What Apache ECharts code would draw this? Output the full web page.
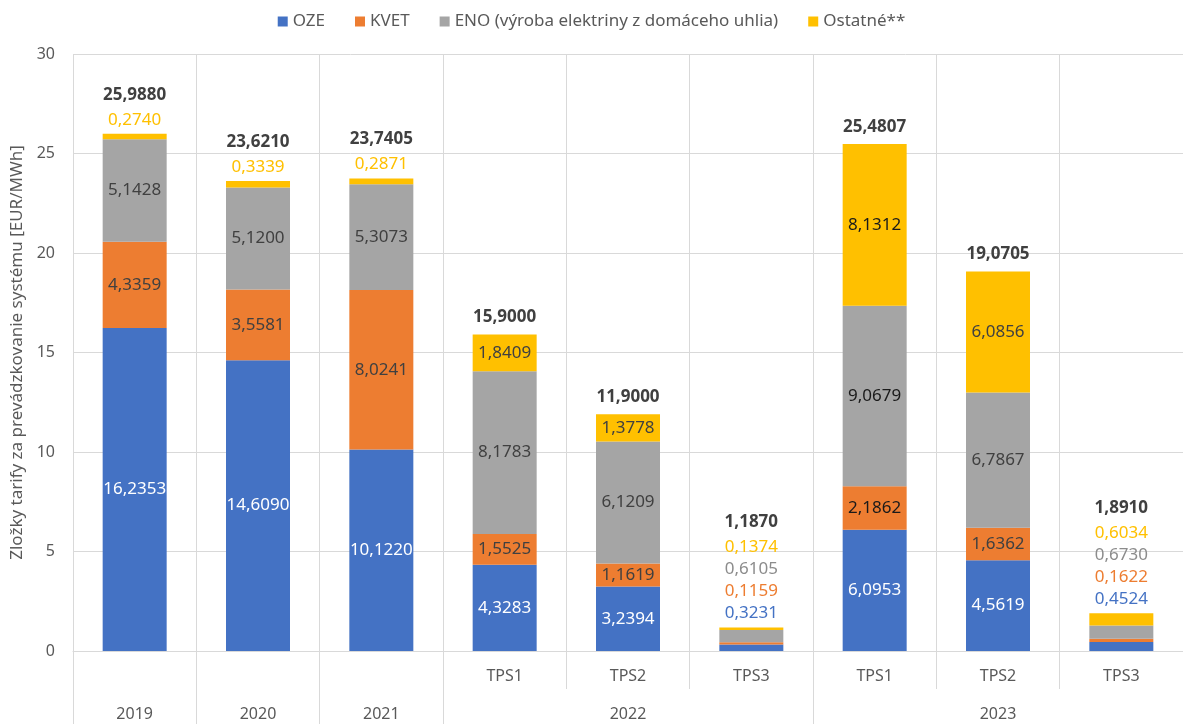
<!DOCTYPE html>
<html>
<head>
<meta charset="utf-8">
<script src="https://cdn.jsdelivr.net/npm/echarts@6/dist/echarts.min.js"></script>
<style>
  html, body { margin: 0; padding: 0; background: #fff; }
  #chart { width: 1183px; height: 724px; }
</style>
</head>
<body>
<div id="chart"></div>
<script>
var categories = ['2019', '2020', '2021', '2022 TPS1', '2022 TPS2', '2022 TPS3', '2023 TPS1', '2023 TPS2', '2023 TPS3'];
var periodLabels = ['', '', '', 'TPS1', 'TPS2', 'TPS3', 'TPS1', 'TPS2', 'TPS3'];
var yearLabels = ['2019', '2020', '2021', '', '2022', '', '', '2023', ''];
var yearStarts = [0, 1, 2, 3, 6];

var oze = [16.2353, 14.6090, 10.1220, 4.3283, 3.2394, 0.3231, 6.0953, 4.5619, 0.4524];
var kvet = [4.3359, 3.5581, 8.0241, 1.5525, 1.1619, 0.1159, 2.1862, 1.6362, 0.1622];
var eno = [5.1428, 5.1200, 5.3073, 8.1783, 6.1209, 0.6105, 9.0679, 6.7867, 0.6730];
var ostatne = [0.2740, 0.3339, 0.2871, 1.8409, 1.3778, 0.1374, 8.1312, 6.0856, 0.6034];
var totals = [25.9880, 23.6210, 23.7405, 15.9000, 11.9000, 1.1870, 25.4807, 19.0705, 1.8910];

var FONT = 'Noto Sans';
var GRID_COLOR = '#d9d9d9';
var TEXT_COLOR = '#595959';

function fmt(v) {
  return v.toFixed(4).replace('.', ',');
}

// segments below 1 get their value written above the bar
var OUTSIDE_LIMIT = 1;

function segmentData(values, insideColor) {
  return values.map(function (v, i) {
    var color = insideColor;
    if (insideColor !== '#ffffff' && i === 6) color = '#1a1a1a';
    return {
      value: v,
      label: {
        show: v >= OUTSIDE_LIMIT,
        color: color
      }
    };
  });
}

function totalLabel(i) {
  var parts = ['{t|' + fmt(totals[i]) + '}'];
  if (ostatne[i] < OUTSIDE_LIMIT) parts.push('{y|' + fmt(ostatne[i]) + '}');
  if (eno[i] < OUTSIDE_LIMIT) parts.push('{g|' + fmt(eno[i]) + '}');
  if (kvet[i] < OUTSIDE_LIMIT) parts.push('{o|' + fmt(kvet[i]) + '}');
  if (oze[i] < OUTSIDE_LIMIT) parts.push('{b|' + fmt(oze[i]) + '}');
  return parts.join('\n');
}

var chart = echarts.init(document.getElementById('chart'));

var barLabel = {
  show: true,
  position: 'inside',
  fontFamily: FONT,
  fontSize: 17,
  formatter: function (p) { return fmt(p.value); }
};

function barSeries(name, color, values, labelColor) {
  return {
    name: name,
    type: 'bar',
    stack: 'total',
    barWidth: 64,
    itemStyle: { color: color },
    label: barLabel,
    data: segmentData(values, labelColor)
  };
}

var option = {
  animation: false,
  textStyle: { fontFamily: FONT },
  legend: {
    data: ['OZE', 'KVET', 'ENO (výroba elektriny z domáceho uhlia)', 'Ostatné**'],
    top: 8,
    left: 'center',
    icon: 'rect',
    itemWidth: 10,
    itemHeight: 10,
    itemGap: 30,
    textStyle: { fontSize: 17, color: TEXT_COLOR, fontFamily: FONT }
  },
  grid: { left: 73, right: 0, top: 54, bottom: 73, containLabel: false },
  xAxis: [{
    type: 'category',
    data: categories,
    axisLine: { lineStyle: { color: GRID_COLOR, width: 1 } },
    axisTick: { show: true, length: 38, interval: 0, lineStyle: { color: GRID_COLOR } },
    splitLine: { show: true, interval: 0, lineStyle: { color: GRID_COLOR } },
    axisLabel: {
      interval: 0,
      margin: 17,
      fontSize: 16,
      color: TEXT_COLOR,
      fontFamily: FONT,
      formatter: function (v, i) { return periodLabels[i]; }
    }
  }, {
    type: 'category',
    data: categories,
    position: 'bottom',
    axisLine: { show: false },
    axisTick: {
      show: true,
      length: 80,
      interval: function (i) { return yearStarts.indexOf(i) >= 0; },
      lineStyle: { color: GRID_COLOR }
    },
    axisLabel: {
      interval: 0,
      margin: 55,
      fontSize: 16,
      color: TEXT_COLOR,
      fontFamily: FONT,
      formatter: function (v, i) { return yearLabels[i]; }
    }
  }],
  yAxis: {
    type: 'value',
    min: 0,
    max: 30,
    interval: 5,
    name: 'Zložky tarify za prevádzkovanie systému [EUR/MWh]',
    nameLocation: 'middle',
    nameGap: 46,
    nameTextStyle: { fontSize: 17, color: TEXT_COLOR, fontFamily: FONT },
    axisLine: { show: false },
    axisTick: { show: false },
    axisLabel: { fontSize: 16, color: TEXT_COLOR, margin: 18, fontFamily: FONT },
    splitLine: { lineStyle: { color: GRID_COLOR } }
  },
  series: [
    barSeries('OZE', '#4472c4', oze, '#ffffff'),
    barSeries('KVET', '#ed7d31', kvet, '#404040'),
    barSeries('ENO (výroba elektriny z domáceho uhlia)', '#a5a5a5', eno, '#404040'),
    barSeries('Ostatné**', '#ffc000', ostatne, '#404040'),
    {
      name: 'Spolu',
      type: 'bar',
      stack: 'total',
      barWidth: 64,
      itemStyle: { color: 'transparent' },
      data: totals.map(function () { return 0; }),
      label: {
        show: true,
        position: 'top',
        distance: 3,
        align: 'center',
        fontFamily: FONT,
        formatter: function (p) { return totalLabel(p.dataIndex); },
        rich: {
          t: { fontSize: 17, fontWeight: 'bold', color: '#404040', lineHeight: 28, fontFamily: FONT },
          y: { fontSize: 17, color: '#ffc000', lineHeight: 22, fontFamily: FONT },
          g: { fontSize: 17, color: '#8c8c8c', lineHeight: 22, fontFamily: FONT },
          o: { fontSize: 17, color: '#ed7d31', lineHeight: 22, fontFamily: FONT },
          b: { fontSize: 17, color: '#4472c4', lineHeight: 22, fontFamily: FONT }
        }
      }
    }
  ]
};

chart.setOption(option);
</script>
</body>
</html>
